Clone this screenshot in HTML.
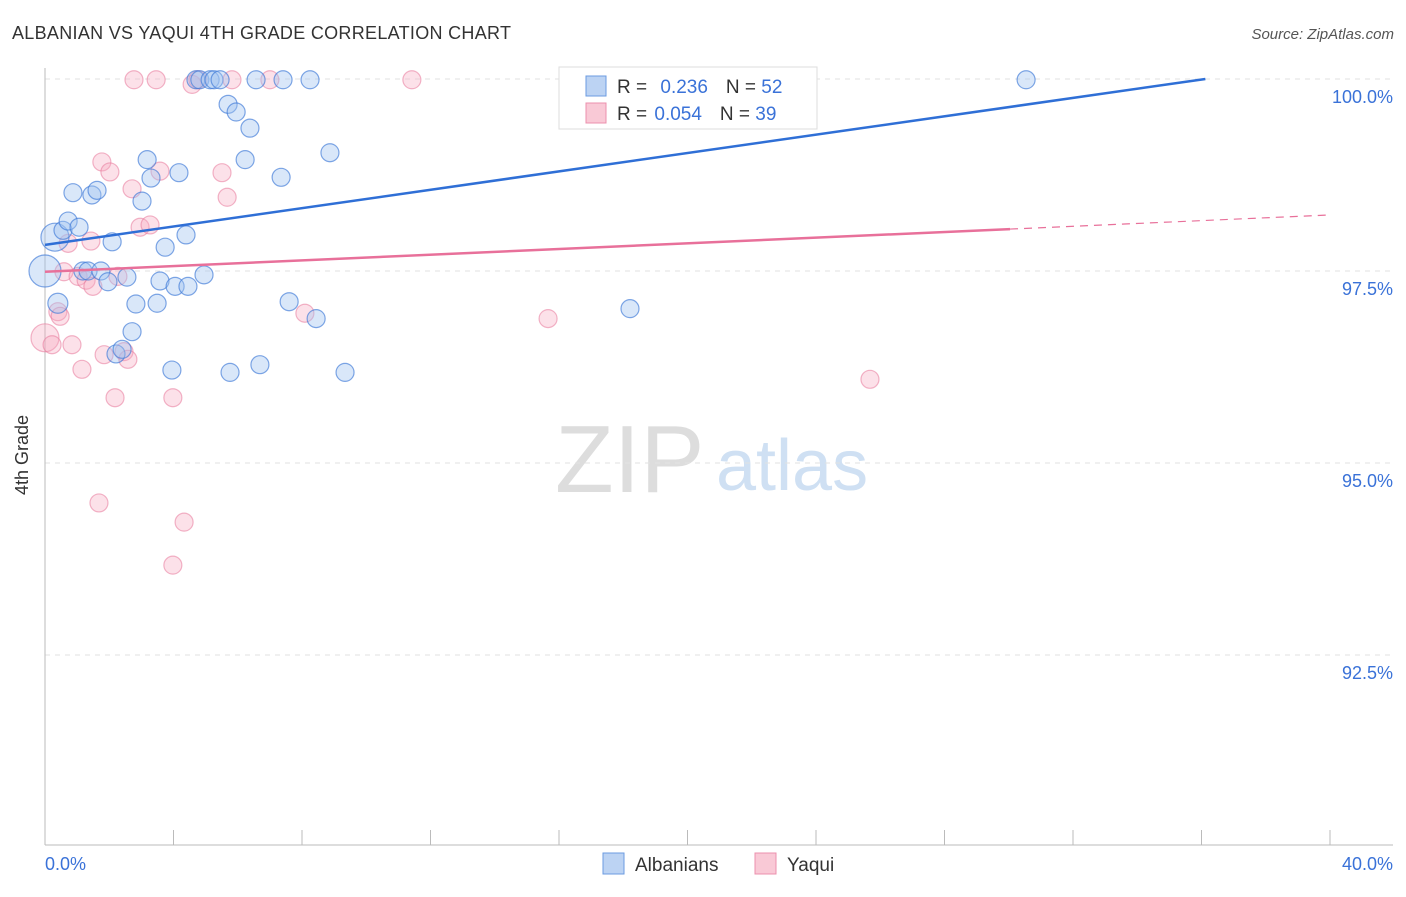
<!DOCTYPE html>
<html><head><meta charset="utf-8"><style>
body{margin:0;background:#fff;font-family:"Liberation Sans",sans-serif}
svg text{font-family:"Liberation Sans",sans-serif}
</style></head><body>
<svg width="1406" height="892" xmlns="http://www.w3.org/2000/svg">
<text x="12" y="39" font-size="18" fill="#333" letter-spacing="0.3">ALBANIAN VS YAQUI 4TH GRADE CORRELATION CHART</text>
<text x="1394" y="39" font-size="15" fill="#555" font-style="italic" text-anchor="end">Source: ZipAtlas.com</text>
<g>
<text x="555" y="492" font-size="96" fill="#ddd" font-family="Liberation Serif">ZIP</text>
<text x="716" y="490" font-size="72" fill="#cfe0f3">atlas</text>
</g>
<g id="grid"></g>
<line x1="45" y1="68" x2="45" y2="845" stroke="#bbb"/>
<line x1="45" y1="845" x2="1393" y2="845" stroke="#bbb"/>
<g id="ticks"></g>
<g id="pts"></g>
<g id="lines"></g>
<text x="28" y="455" font-size="18" fill="#333" transform="rotate(-90 28 455)" text-anchor="middle">4th Grade</text>
<text x="45" y="870" font-size="18" fill="#3a72d8">0.0%</text>
<text x="1393" y="870" font-size="18" fill="#3a72d8" text-anchor="end">40.0%</text>
<g>
<rect x="559" y="67" width="258" height="62" fill="#fff" stroke="#ddd"/>
<rect x="586" y="76" width="20" height="20" fill="#bcd3f3" stroke="#6b9be0"/>
<rect x="586" y="103" width="20" height="20" fill="#f9c9d6" stroke="#ec90ad"/>
<text x="617" y="93" font-size="19" fill="#333">R = <tspan fill="#3a72d8" dx="8">0.236</tspan><tspan dx="18">N = </tspan><tspan fill="#3a72d8">52</tspan></text>
<text x="617" y="120" font-size="19" fill="#333">R = <tspan fill="#3a72d8" dx="2">0.054</tspan><tspan dx="18">N = </tspan><tspan fill="#3a72d8">39</tspan></text>
</g>
<g>
<rect x="603" y="853" width="21" height="21" fill="#bcd3f3" stroke="#6b9be0"/>
<text x="635" y="871" font-size="19" fill="#333">Albanians</text>
<rect x="755" y="853" width="21" height="21" fill="#f9c9d6" stroke="#ec90ad"/>
<text x="787" y="871" font-size="19" fill="#333">Yaqui</text>
</g>
</svg>
<script>
const yTicks=[100,97.5,95,92.5];
const yTickLabels=["100.0%","97.5%","95.0%","92.5%"];
const xTicks=[0,4,8,12,16,20,24,28,32,36,40];
const albX=[0.31,0,0.40,0.56,0.72,0.87,1.06,1.18,1.34,1.46,1.62,1.74,1.96,2.09,2.21,2.40,2.55,2.71,2.83,3.02,3.18,3.30,3.49,3.58,3.74,3.95,4.05,4.17,4.39,4.45,4.70,4.95,4.82,5.14,5.26,5.45,5.70,5.76,5.95,6.23,6.38,6.57,6.69,7.35,7.41,7.60,8.25,8.44,8.87,9.34,18.21,30.54];
const albY=[97.94,97.50,97.08,98.03,98.15,98.52,98.07,97.50,97.50,98.49,98.55,97.50,97.36,97.88,96.42,96.48,97.42,96.71,97.07,98.41,98.95,98.71,97.08,97.37,97.81,96.21,97.30,98.78,97.97,97.30,99.99,97.45,99.99,99.99,99.99,99.99,99.67,96.18,99.57,98.95,99.36,99.99,96.28,98.72,99.99,97.10,99.99,96.88,99.04,96.18,97.01,99.99];
const albR=[14,16,10,9,9,9,9,9,9,9,9,9,9,9,9,9,9,9,9,9,9,9,9,9,9,9,9,9,9,9,9,9,9,9,9,9,9,9,9,9,9,9,9,9,9,9,9,9,9,9,9,9];
const yaqX=[0,0.22,0.40,0.47,0.59,0.72,0.84,1.03,1.15,1.28,1.43,1.49,1.68,1.77,2.02,2.18,1.84,2.27,2.46,2.58,2.71,2.77,2.96,3.27,3.46,3.58,3.98,3.98,4.33,4.58,4.76,5.51,5.67,5.82,7.00,8.09,11.42,15.66,25.68];
const yaqY=[96.63,96.54,96.97,96.91,97.49,97.86,96.54,97.43,96.22,97.38,97.89,97.30,94.48,98.92,98.79,95.85,96.41,97.43,96.45,96.35,98.57,99.99,98.07,98.10,99.99,98.80,95.85,93.67,94.23,99.93,99.99,98.78,98.46,99.99,99.99,96.95,99.99,96.88,96.09];
const albTrend=[97.84,0.0598];
const yaqTrend=[97.49,0.0185];
const xs=v=>45+v*32.125, ys=v=>79+(100-v)*76.8;
const NS="http://www.w3.org/2000/svg";
function mk(t,a,p){const e=document.createElementNS(NS,t);for(const k in a)e.setAttribute(k,a[k]);p.appendChild(e);return e;}
const grid=document.getElementById('grid'),ticks=document.getElementById('ticks'),pts=document.getElementById('pts'),lines=document.getElementById('lines');
yTicks.forEach((v,i)=>{
 const l=mk('line',{x1:45,x2:1393,y1:ys(v),y2:ys(v),stroke:'#e2e2e2','stroke-dasharray':'5,5'},grid);
 
 
 const t=mk('text',{x:1393,y:ys(v)+24,'font-size':18,fill:'#3a72d8','text-anchor':'end'},grid);
 t.textContent=yTickLabels[i];
 
 
});
xTicks.forEach(v=>{
 const l=mk('line',{x1:xs(v),x2:xs(v),y1:830,y2:845,stroke:'#bbb'},ticks);
 
 
});
yaqX.forEach((x,i)=>{
 const c=mk('circle',{cx:xs(x),cy:ys(yaqY[i]),r:i==0?14:9,fill:'rgba(246,170,192,0.35)',stroke:'rgba(232,120,155,0.55)','stroke-width':1.2},pts);
 
 
});
albX.forEach((x,i)=>{
 const c=mk('circle',{cx:xs(x),cy:ys(albY[i]),r:albR[i],fill:'rgba(160,195,240,0.4)',stroke:'rgba(60,120,215,0.65)','stroke-width':1.2},pts);
 
 
});
const aEnd=(100-albTrend[0])/albTrend[1];
const bl=mk('line',{x1:xs(0),y1:ys(albTrend[0]),x2:xs(aEnd),y2:ys(100),stroke:'#2f6fd6','stroke-width':2.5},lines);


const pl=mk('line',{x1:xs(0),y1:ys(yaqTrend[0]),x2:xs(30.04),y2:ys(yaqTrend[0]+yaqTrend[1]*30.04),stroke:'#e8709a','stroke-width':2.5},lines);


const pd=mk('line',{x1:xs(30.04),y1:ys(yaqTrend[0]+yaqTrend[1]*30.04),x2:xs(40),y2:ys(yaqTrend[0]+yaqTrend[1]*40),stroke:'#e8709a','stroke-width':1.2,'stroke-dasharray':'8,6'},lines);


</script>
</body></html>
